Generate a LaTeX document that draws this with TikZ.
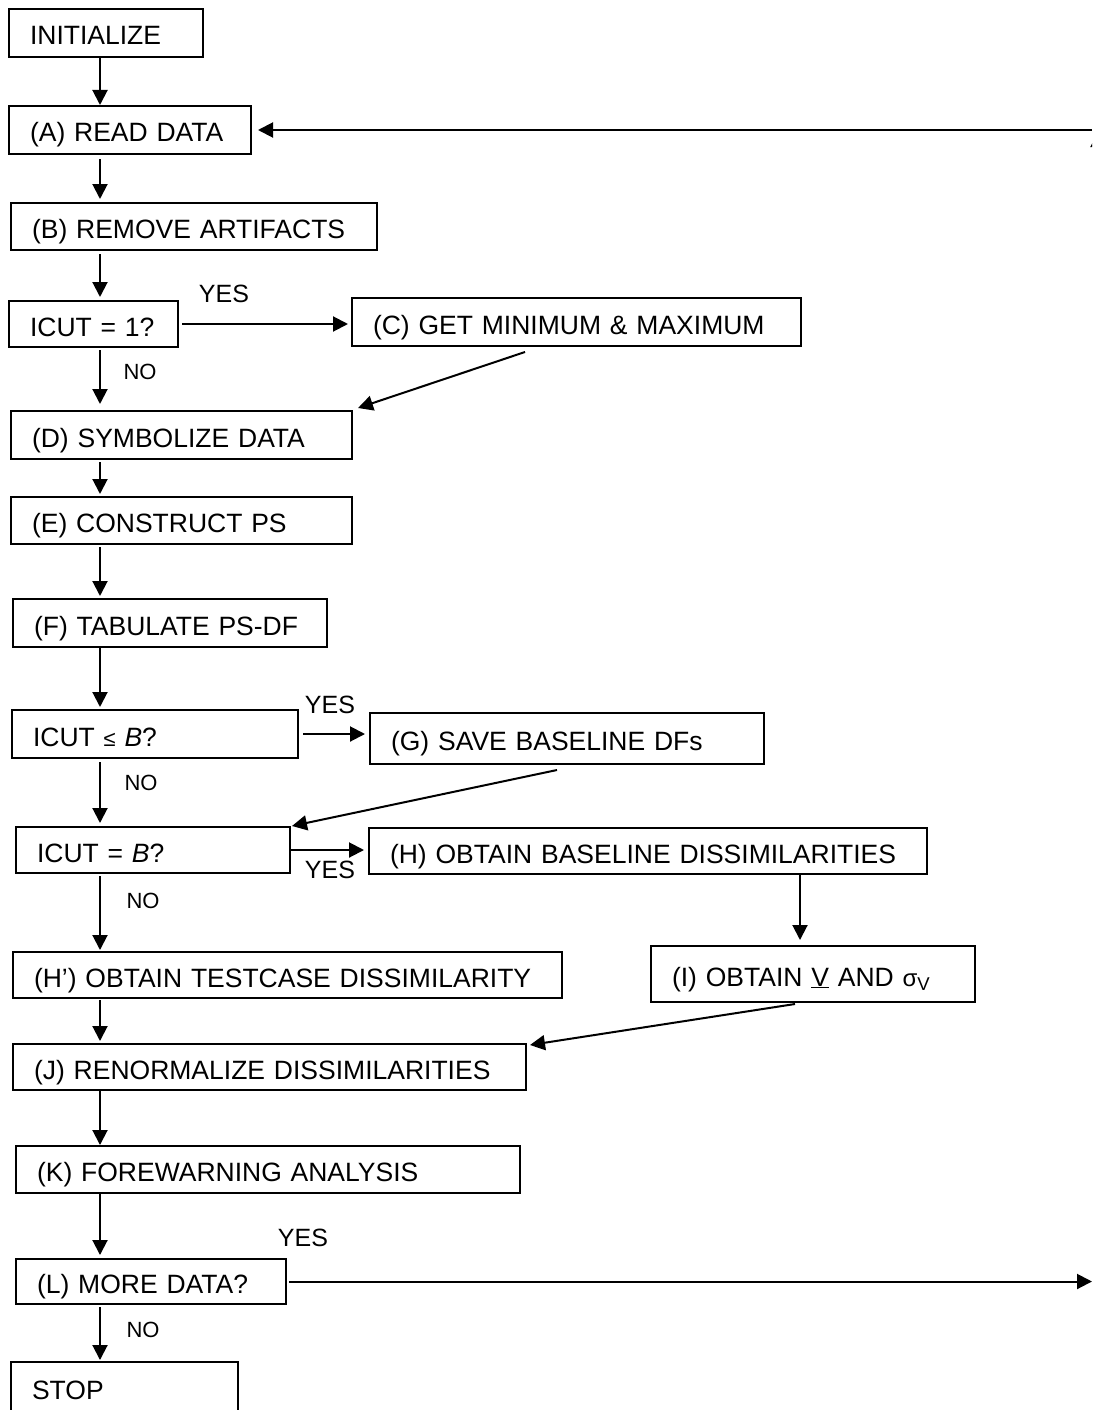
\documentclass[tikz,border=0pt]{standalone}
\usepackage{fontspec}
\setmainfont{Liberation Sans}
\usetikzlibrary{arrows.meta,calc}
\begin{document}
\begin{tikzpicture}[x=1pt,y=-1pt,
  box/.style={draw, line width=2pt, anchor=north west, align=left,
    inner xsep=21pt, inner ysep=0pt, text height=24pt, text depth=0pt,
    font=\fontsize{26.5}{30}\selectfont},
  arr/.style={line width=2pt, -{Triangle[length=15pt,width=15pt]}},
  yeslbl/.style={font=\fontsize{25}{28}\selectfont, inner sep=0pt},
  nolbl/.style={font=\fontsize{22}{26}\selectfont, inner sep=0pt}]
\useasboundingbox (0,0) rectangle (1092,1410);
\clip (0,0) rectangle (1092,1410);
\coordinate (xc) at (100,0);
\coordinate (hx) at (800,0);
\coordinate (rt) at (1092,0);
% boxes
\node[box, text width=152pt, minimum width=194pt, minimum height=48pt] (init) at (8,8) {INITIALIZE};
\node[box, text width=200pt, minimum width=242pt, minimum height=48pt] (A) at (8,105) {(A) READ DATA};
\node[box, text width=324pt, minimum width=366pt, minimum height=47pt] (B) at (10,202) {(B) REMOVE ARTIFACTS};
\node[box, text width=127pt, minimum width=169pt, minimum height=46pt] (Q1) at (8,300) {ICUT = 1?};
\node[box, text width=407pt, minimum width=449pt, minimum height=48pt] (C) at (351,297) {(C) GET MINIMUM \& MAXIMUM};
\node[box, text width=299pt, minimum width=341pt, minimum height=48pt] (D) at (10,410) {(D) SYMBOLIZE DATA};
\node[box, text width=299pt, minimum width=341pt, minimum height=47pt] (E) at (10,496) {(E) CONSTRUCT PS};
\node[box, text width=272pt, minimum width=314pt, minimum height=48pt] (F) at (12,598) {(F) TABULATE PS-DF};
\node[box, text width=244pt, minimum width=286pt, minimum height=48pt] (Q2) at (11,709) {ICUT {\fontsize{22}{26}\selectfont ≤} \textit{B}?};
\node[box, text width=352pt, minimum width=394pt, minimum height=51pt] (G) at (369,712) {(G) SAVE BASELINE DFs};
\node[box, text width=232pt, minimum width=274pt, minimum height=46pt] (Q3) at (15,826) {ICUT = \textit{B}?};
\node[box, text width=516pt, minimum width=558pt, minimum height=46pt] (H) at (368,827) {(H) OBTAIN BASELINE DISSIMILARITIES};
\node[box, text width=507pt, minimum width=549pt, minimum height=46pt] (Hp) at (12,951) {(H’) OBTAIN TESTCASE DISSIMILARITY};
\node[box, text width=282pt, minimum width=324pt, minimum height=56pt] (I) at (650,945) {(I) OBTAIN \underline{V} AND {\fontsize{24}{26}\selectfont σ}\textsubscript{V}};
\node[box, text width=471pt, minimum width=513pt, minimum height=46pt] (J) at (12,1043) {(J) RENORMALIZE DISSIMILARITIES};
\node[box, text width=462pt, minimum width=504pt, minimum height=47pt] (K) at (15,1145) {(K) FOREWARNING ANALYSIS};
\node[box, text width=228pt, minimum width=270pt, minimum height=45pt] (L) at (15,1258) {(L) MORE DATA?};
\node[box, text width=185pt, minimum width=227pt, minimum height=50pt] (stop) at (10,1361) {STOP};
% vertical arrows
\draw[arr] (init.south -| xc) -- (A.north -| xc);
\draw[arr, shorten <=4pt, shorten >=3pt] (A.south -| xc) -- (B.north -| xc);
\draw[arr, shorten <=3pt, shorten >=3pt] (B.south -| xc) -- (Q1.north -| xc);
\draw[arr, shorten <=2pt, shorten >=6pt] (Q1.south -| xc) -- (D.north -| xc);
\draw[arr, shorten <=2pt, shorten >=2pt] (D.south -| xc) -- (E.north -| xc);
\draw[arr, shorten <=2pt, shorten >=2pt] (E.south -| xc) -- (F.north -| xc);
\draw[arr, shorten >=2pt] (F.south -| xc) -- (Q2.north -| xc);
\draw[arr, shorten <=3pt, shorten >=3pt] (Q2.south -| xc) -- (Q3.north -| xc);
\draw[arr, shorten <=2pt, shorten >=1pt] (Q3.south -| xc) -- (Hp.north -| xc);
\draw[arr, shorten <=1pt, shorten >=2pt] (Hp.south -| xc) -- (J.north -| xc);
\draw[arr] (J.south -| xc) -- (K.north -| xc);
\draw[arr, shorten >=3pt] (K.south -| xc) -- (L.north -| xc);
\draw[arr, shorten <=2pt, shorten >=1pt] (L.south -| xc) -- (stop.north -| xc);
\draw[arr] (H.south -| hx) -- ($(I.north -| hx)+(0,-5)$);
% horizontal arrows
\draw[arr, shorten <=3pt, shorten >=3pt] (Q1.east) -- (Q1.east -| C.west);
\draw[arr, shorten <=4pt, shorten >=4pt] (Q2.east) -- (Q2.east -| G.west);
\draw[arr, shorten >=4pt] (Q3.east) -- (Q3.east -| H.west);
\draw[arr, shorten <=2pt] (L.east) -- (L.east -| rt);
\draw[arr, shorten >=6pt] (rt |- A.east) -- (A.east);
\coordinate (upstart) at (1098,200);
\coordinate (upend) at (1098,132);
\draw[arr] (upstart) -- (upend);
% diagonal arrows
\draw[arr] ($(C.south west)+(174,5)$) -- ($(D.north east)+(5,-2)$);
\draw[arr] ($(G.south west)+(188,5)$) -- ($(Q3.north east)+(1,0)$);
\draw[arr] ($(I.south west)+(145,1)$) -- ($(J.north east)+(3,2)$);
% labels
\node[yeslbl] (y1) at (224,294) {YES};
\node[nolbl] (n1) at (140,372) {NO};
\node[yeslbl] (y2) at (330,705) {YES};
\node[nolbl] (n2) at (141,783) {NO};
\node[yeslbl] (y3) at (330,870) {YES};
\node[nolbl] (n3) at (143,901) {NO};
\node[yeslbl] (y4) at (303,1238) {YES};
\node[nolbl] (n4) at (143,1330) {NO};
\end{tikzpicture}
\end{document}
